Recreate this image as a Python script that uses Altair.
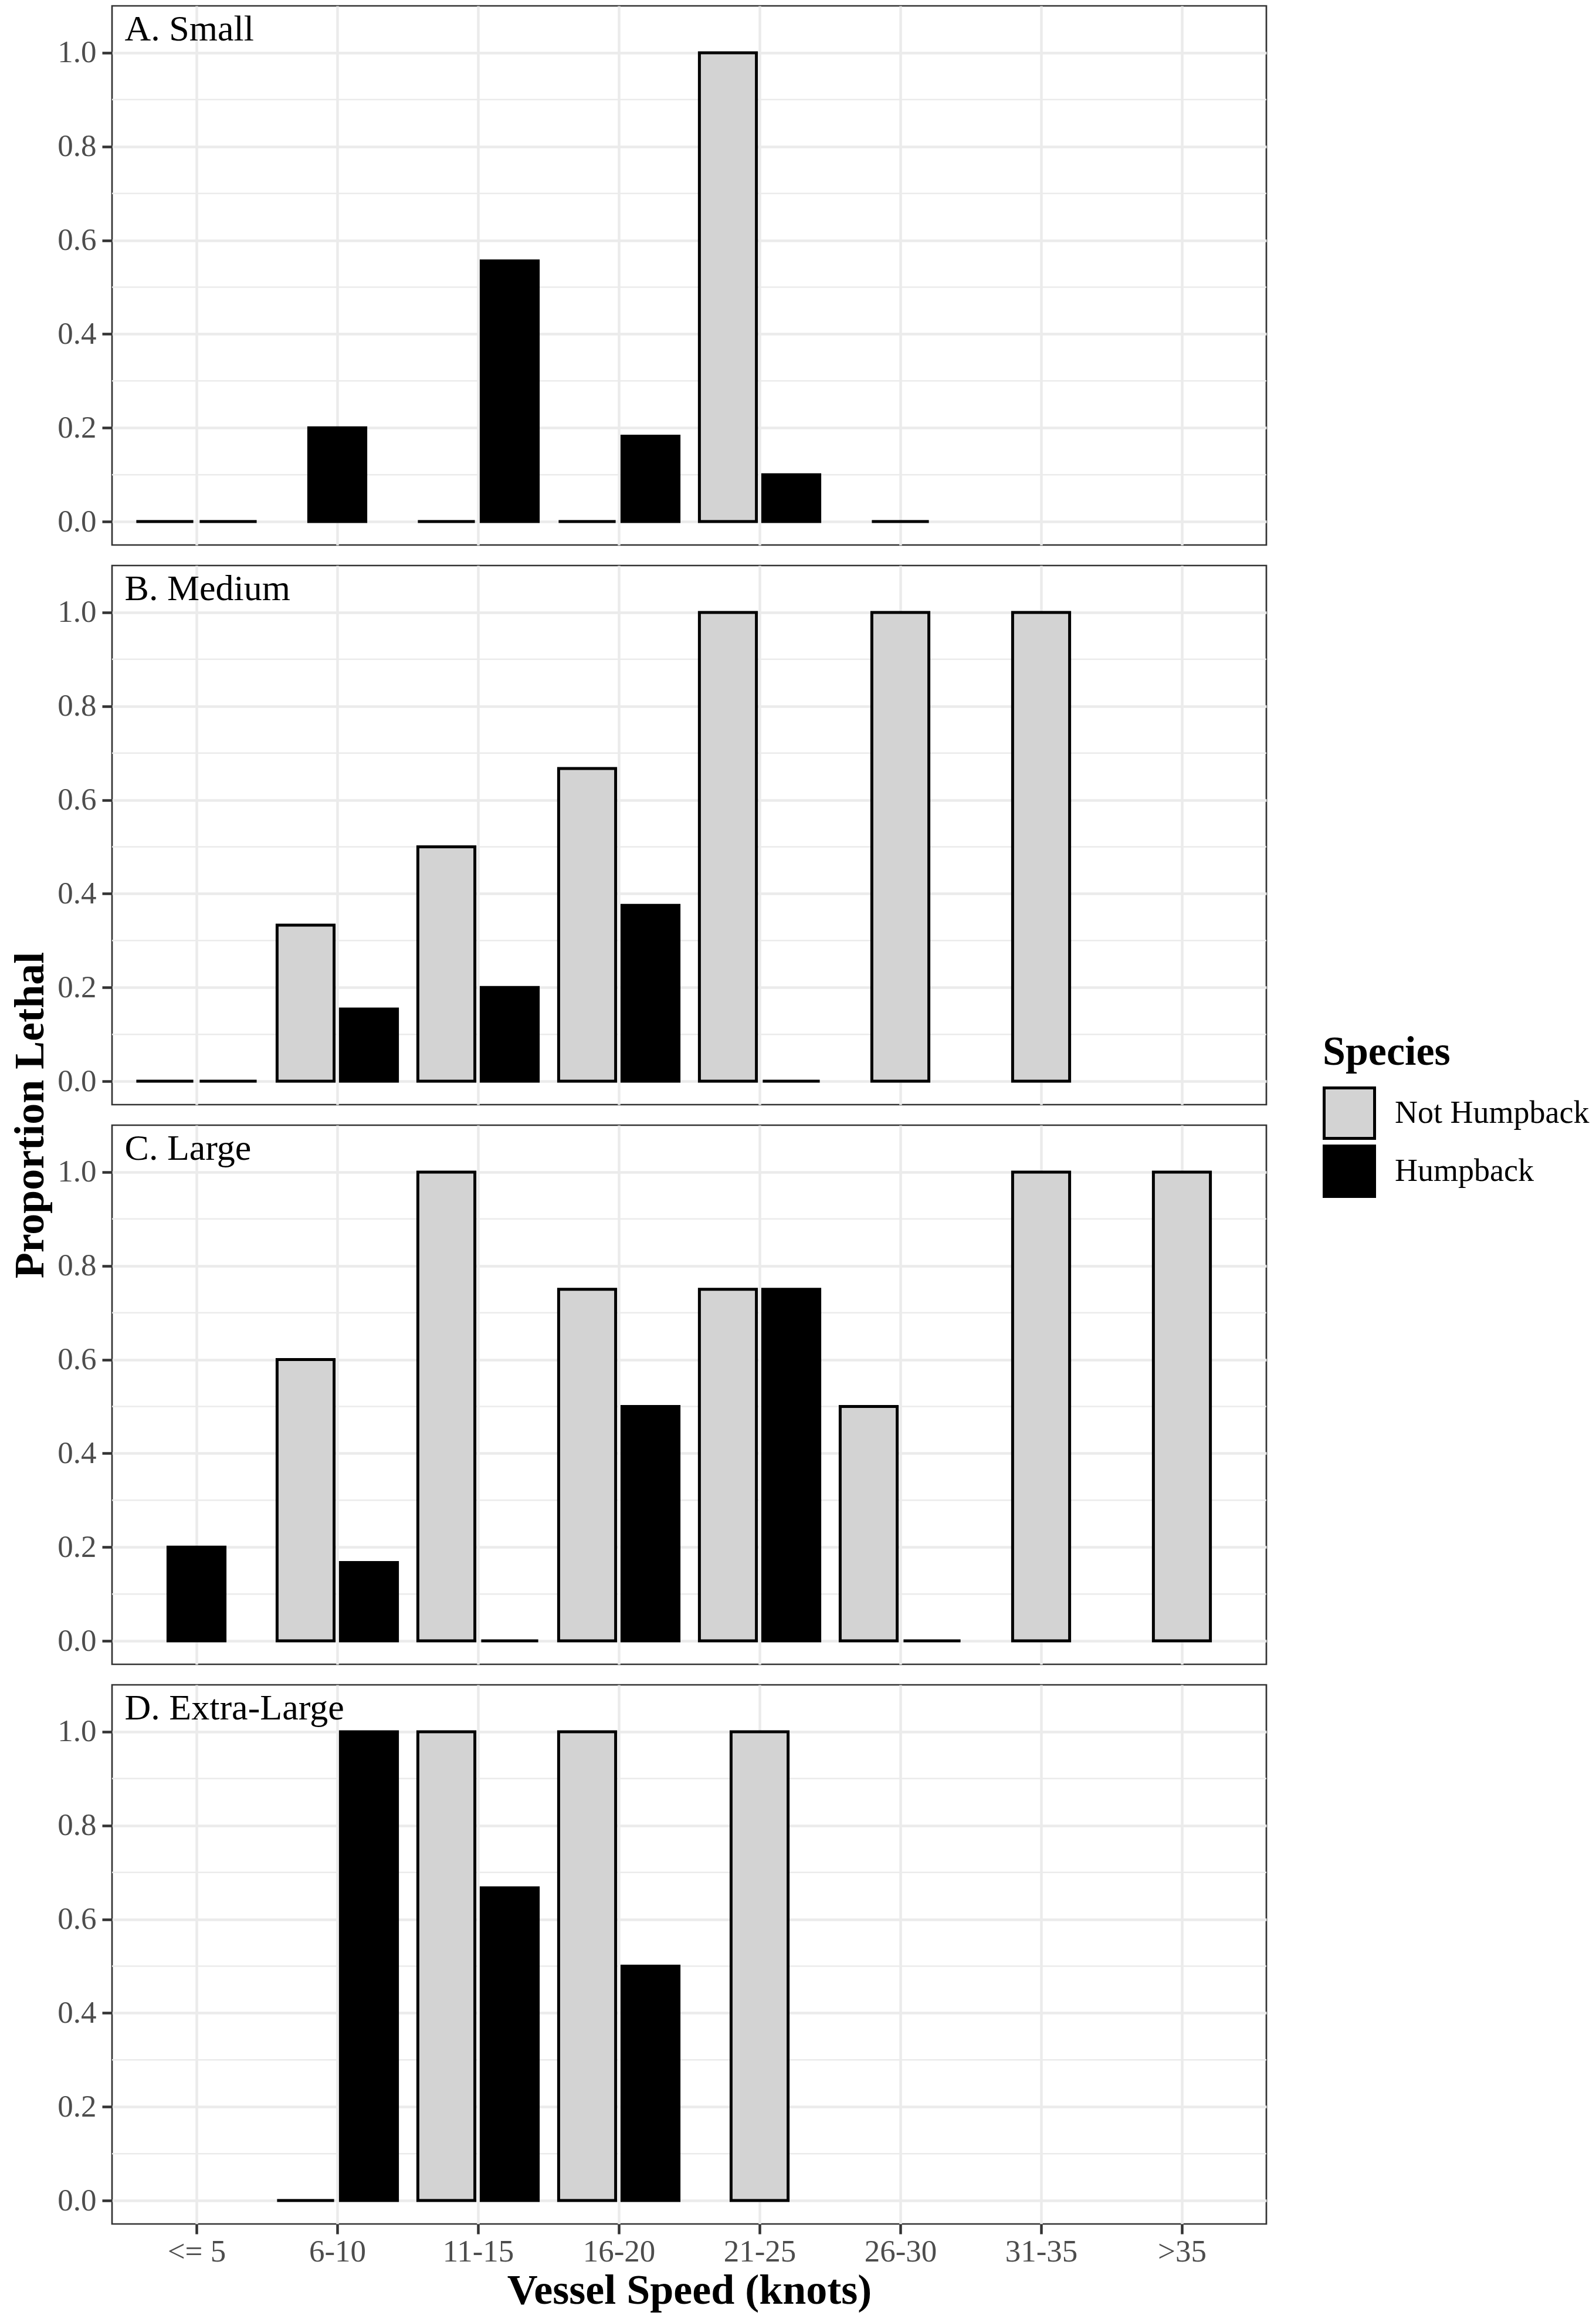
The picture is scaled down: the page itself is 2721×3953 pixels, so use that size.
import json
import altair as alt
import pandas as pd

# ---- data ----
speeds = ["<= 5", "6-10", "11-15", "16-20", "21-25", "26-30", "31-35", ">35"]
panels = ["A. Small", "B. Medium", "C. Large", "D. Extra-Large"]
species = ["Not Humpback", "Humpback"]

not_humpback = {
    "A. Small":       [0.0, None, 0.0, 0.0, 1.0, None, None, None],
    "B. Medium":      [0.0, 0.333, 0.5, 0.667, 1.0, 1.0, 1.0, None],
    "C. Large":       [None, 0.6, 1.0, 0.75, 0.75, 0.5, 1.0, 1.0],
    "D. Extra-Large": [None, 0.0, 1.0, 1.0, 1.0, None, None, None],
}
humpback = {
    "A. Small":       [0.0, 0.2, 0.556, 0.182, 0.1, 0.0, None, None],
    "B. Medium":      [0.0, 0.154, 0.2, 0.375, 0.0, None, None, None],
    "C. Large":       [0.2, 0.167, 0.0, 0.5, 0.75, 0.0, None, None],
    "D. Extra-Large": [None, 1.0, 0.667, 0.5, None, None, None, None],
}

y_major = [0.0, 0.2, 0.4, 0.6, 0.8, 1.0]
y_minor = [0.1, 0.3, 0.5, 0.7, 0.9]

rows = []
for p in panels:
    for i, s in enumerate(speeds):
        for sp, arr in (("Not Humpback", not_humpback[p]), ("Humpback", humpback[p])):
            v = arr[i]
            if v is not None:
                rows.append({"panel": p, "speed": s, "species": sp, "value": v})
df = pd.DataFrame(rows)
minor_df = pd.DataFrame({"v": y_minor})

FONT = "Liberation Serif"
PW, PH = 1968, 919
SPACING = 35

xscale = alt.Scale(domain=[0.4, 8.6], nice=False, zero=False)
yscale = alt.Scale(domain=[-0.05, 1.1], nice=False, zero=False)

legend = alt.Legend(
    title="Species", orient="none", legendX=2064, legendY=1750,
    symbolType="square", symbolSize=7396, symbolStrokeColor="black",
    symbolStrokeWidth=5, rowPadding=-9, labelOffset=32, titlePadding=22,
    padding=0, titleFont=FONT, titleFontSize=70, titleFontWeight="bold",
    titleColor="black", labelFont=FONT, labelFontSize=54, labelColor="black",
    labelLimit=0, titleLimit=0,
)

speeds_js = json.dumps(speeds)


def make_panel(p, bottom, with_ytitle):
    if bottom:
        xaxis = alt.Axis(values=list(range(1, 9)), labelExpr=f"{speeds_js}[datum.value - 1]",
                         title="Vessel Speed (knots)", grid=True, ticks=True, labels=True,
                         domain=False, labelPadding=4, titlePadding=4, labelAngle=0)
    else:
        xaxis = alt.Axis(values=list(range(1, 9)), title=None, grid=True, ticks=False,
                         labels=False, domain=False)
    yaxis_kw = dict(values=y_major, format=".1f", grid=True, domain=False, labelPadding=10)
    if with_ytitle:
        yaxis_kw.update(title="Proportion Lethal", titleY=PH + SPACING / 2, titlePadding=9)
    else:
        yaxis_kw.update(title=None)
    yaxis = alt.Axis(**yaxis_kw)

    minor = alt.Chart(minor_df).mark_rule(color="#EBEBEB", strokeWidth=2.5).encode(
        y=alt.Y("v:Q", scale=yscale, axis=yaxis)
    )

    bars = (
        alt.Chart(df)
        .transform_filter(alt.datum.panel == p)
        .transform_joinaggregate(n="count()", groupby=["speed"])
        .transform_calculate(idx=f"indexof({speeds_js}, datum.speed) + 1")
        .transform_calculate(
            center="datum.idx + (datum.n == 1 ? 0 : (datum.species == 'Not Humpback' ? -0.225 : 0.225))"
        )
        .transform_calculate(x1="datum.center - 0.2025", x2="datum.center + 0.2025", base="0")
        .mark_bar(stroke="black", strokeWidth=5)
        .encode(
            x=alt.X("x1:Q", scale=xscale, axis=xaxis),
            x2="x2:Q",
            y=alt.Y("value:Q", scale=yscale, axis=yaxis),
            y2="base:Q",
            fill=alt.Fill("species:N", scale=alt.Scale(domain=species, range=["#D3D3D3", "#000000"]),
                          legend=legend, sort=species),
        )
    )

    label = alt.Chart(pd.DataFrame({"label": [p]})).mark_text(
        align="left", baseline="alphabetic", font=FONT, fontSize=62, color="black"
    ).encode(
        x=alt.datum(0.49), y=alt.datum(1.026), text="label:N"
    )

    return alt.layer(minor, bars, label).properties(width=PW, height=PH)


charts = [make_panel(p, i == len(panels) - 1, i == 1) for i, p in enumerate(panels)]

chart = (
    alt.vconcat(*charts, spacing=SPACING, bounds="flush")
    .properties(padding={"left": 6, "top": 0, "right": 0, "bottom": 0})
    .configure(font=FONT)
    .configure_view(stroke="#333333", strokeWidth=2.7)
    .configure_axis(
        labelFont=FONT, labelFontSize=53, labelColor="#4D4D4D",
        tickColor="#333333", tickWidth=4.5, tickSize=17,
        gridColor="#EBEBEB", gridWidth=4.5,
        titleFont=FONT, titleFontSize=72, titleFontWeight="bold", titleColor="black",
        labelLimit=0, titleLimit=0,
    )
)

chart.save("out.html", embed_options={"renderer": "svg", "actions": False})
